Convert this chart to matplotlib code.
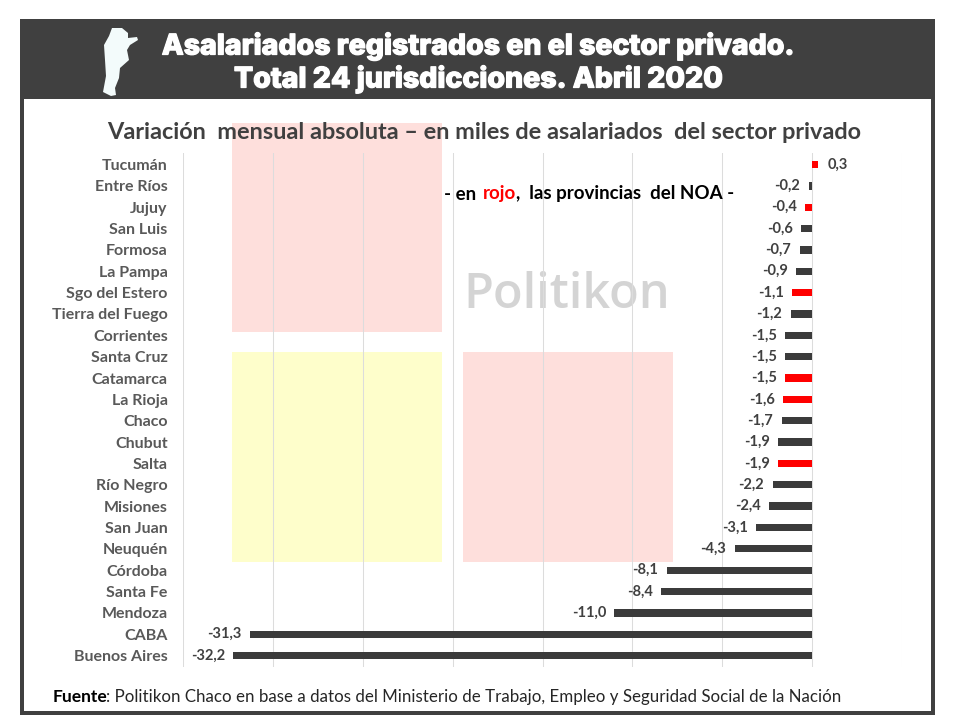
import matplotlib
matplotlib.use("Agg")
import matplotlib.pyplot as plt
import matplotlib.patheffects as pe
from matplotlib.patches import Rectangle, Polygon

provinces = ["Tucumán", "Entre Ríos", "Jujuy", "San Luis", "Formosa", "La Pampa",
             "Sgo del Estero", "Tierra del Fuego", "Corrientes", "Santa Cruz",
             "Catamarca", "La Rioja", "Chaco", "Chubut", "Salta", "Río Negro",
             "Misiones", "San Juan", "Neuquén", "Córdoba", "Santa Fe", "Mendoza",
             "CABA", "Buenos Aires"]
values = [0.3, -0.2, -0.4, -0.6, -0.7, -0.9, -1.1, -1.2, -1.5, -1.5, -1.5, -1.6,
          -1.7, -1.9, -1.9, -2.2, -2.4, -3.1, -4.3, -8.1, -8.4, -11.0, -31.3, -32.2]
noa = {"Tucumán", "Jujuy", "Sgo del Estero", "Catamarca", "La Rioja", "Salta"}
grid_ticks = [-35, -30, -25, -20, -15, -10, -5, 0, 5]

DARK = "#404040"
BAR = "#3b3b3b"
W, H = 960, 720
plt.rcParams["font.family"] = ["Lato", "DejaVu Sans"]

fig = plt.figure(figsize=(9.6, 7.2), dpi=100, facecolor="white")

# background layer in pixel coordinates
bg = fig.add_axes([0, 0, 1, 1], zorder=0)
bg.set_xlim(0, W)
bg.set_ylim(H, 0)
bg.axis("off")
bg.add_patch(Rectangle((20, 19), 915, 696, fc=DARK, ec="none"))
bg.add_patch(Rectangle((24, 99), 907, 612, fc="white", ec="none"))
bg.add_patch(Rectangle((232, 123), 210, 209, fc="#fedfdc", ec="none"))
bg.add_patch(Rectangle((232, 352), 210, 210, fc="#fefecb", ec="none"))
bg.add_patch(Rectangle((463, 352), 210, 210, fc="#fedfdc", ec="none"))
bg.text(567, 295, "Politikon", fontsize=35, color="#d4d4d4", ha="center",
        va="center", fontweight="semibold", family=["Open Sans", "DejaVu Sans"])

# chart
ax = fig.add_axes([183 / W, 1 - 667 / H, (902 - 183) / W, (667 - 153) / H], zorder=1)
ax.patch.set_alpha(0)
colors = ["#ff0000" if p in noa else BAR for p in provinces]
ypos = list(range(len(provinces)))
ax.barh(ypos, values, height=0.34, color=colors, zorder=3)
ax.set_xlim(-35, 5)
ax.set_ylim(23.535, -0.54)
ax.set_xticks(grid_ticks)
ax.set_xticklabels([])
ax.set_yticks(ypos)
ax.set_yticklabels(provinces, fontsize=11.5, fontweight="bold", color="#595959")
ax.tick_params(axis="both", length=0)
ax.tick_params(axis="y", pad=11)
ax.grid(axis="x", color="#dcdcdc", lw=0.75, zorder=1)
for s in ax.spines.values():
    s.set_visible(False)
for y, v in zip(ypos, values):
    txt = f"{v:.1f}".replace(".", ",")
    if v >= 0:
        ax.annotate(txt, (v, y), xytext=(7, 0), textcoords="offset points", ha="left",
                    va="center", fontsize=10.5, fontweight="bold", color=DARK)
    else:
        ax.annotate(txt, (v, y), xytext=(-6, 0), textcoords="offset points", ha="right",
                    va="center", fontsize=10.5, fontweight="bold", color=DARK)

# overlay: header, texts
ov = fig.add_axes([0, 0, 1, 1], zorder=2)
ov.set_xlim(0, W)
ov.set_ylim(H, 0)
ov.axis("off")
ov.patch.set_alpha(0)
argentina = [(112, 28), (122, 28), (128, 33), (128, 38), (137, 37), (138, 40), (130, 45),
             (127, 50), (129, 60), (120, 68), (119, 78), (115, 88), (116, 95), (111, 96),
             (103, 92), (106, 76), (105, 60), (104, 45), (109, 36)]
ov.add_patch(Polygon(argentina, closed=True, fc="#f3fbfb", ec="none"))
stroke = [pe.withStroke(linewidth=0.9, foreground="white")]
ov.text(478, 46, "Asalariados registrados en el sector privado.", color="white", fontsize=20.5,
        fontweight="heavy", ha="center", va="center", family=["Inter", "DejaVu Sans"],
        path_effects=stroke)
ov.text(478, 79, "Total 24 jurisdicciones. Abril 2020", color="white", fontsize=20.5,
        fontweight="heavy", ha="center", va="center", family=["Inter", "DejaVu Sans"],
        path_effects=stroke)
ov.text(484.5, 132.5, "Variación  mensual absoluta – en miles de asalariados  del sector privado",
        color=DARK, fontsize=16.9, fontweight="bold", ha="center", va="center")

ov.text(444, 194, "- en ", color="black", fontsize=13.5, fontweight="bold", ha="left", va="center")
ov.text(483, 194, "rojo", color="#ff0000", fontsize=13.5, fontweight="bold", ha="left", va="center")
ov.text(516, 194, ",  las provincias  del NOA -", color="black", fontsize=13.5, fontweight="bold",
        ha="left", va="center")
ov.text(53, 697, "Fuente", color="black", fontsize=12.5, fontweight="bold", ha="left", va="center")
ov.text(106, 697, ": Politikon Chaco en base a datos del Ministerio de Trabajo, Empleo y Seguridad Social de la Nación",
        color="#262626", fontsize=12.2, ha="left", va="center")

fig.savefig("out.png", dpi=100)
